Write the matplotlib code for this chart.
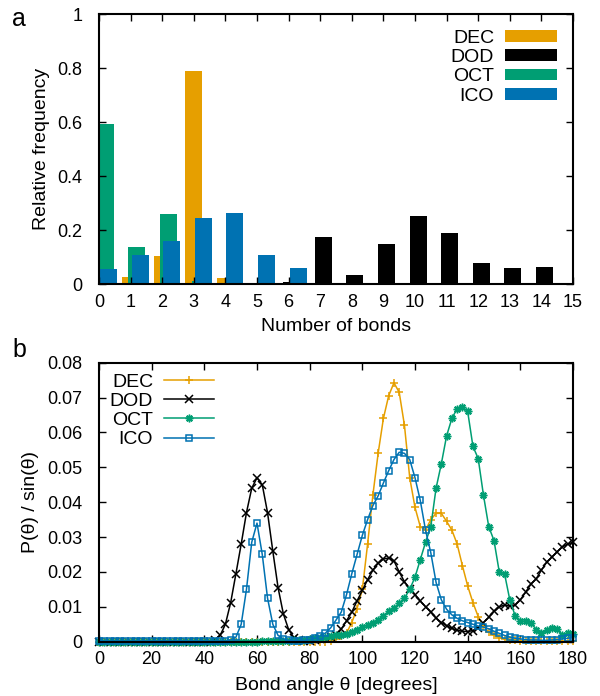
import matplotlib
matplotlib.use("Agg")
import matplotlib.pyplot as plt
import numpy as np
from matplotlib.ticker import FormatStrFormatter

plt.rcParams['font.family'] = ['Liberation Sans', 'DejaVu Sans']

# panel a: bond count histogram
bonds = list(range(15))
dec_freq = [0, 0.028, 0.105, 0.790, 0.022, 0, 0, 0, 0, 0, 0, 0, 0, 0, 0]
dod_freq = [0, 0, 0, 0, 0.004, 0.004, 0.008, 0.175, 0.034, 0.148, 0.252, 0.190, 0.078, 0.059, 0.064]
oct_freq = [0.594, 0.138, 0.259, 0.012, 0, 0, 0, 0, 0, 0, 0, 0, 0, 0, 0]
ico_freq = [0.057, 0.108, 0.160, 0.245, 0.263, 0.107, 0.060, 0.003, 0.002, 0, 0, 0, 0, 0, 0]

# panel b: bond angle distributions, 2 degree steps
theta = list(range(0, 182, 2))
dec_p = ([0.0] * 44 +
         [0.0003, 0.0008, 0.0015, 0.0025, 0.0055, 0.0095, 0.0150, 0.0280, 0.0420, 0.0540,
          0.0640, 0.0705, 0.0742, 0.0715, 0.0620, 0.0470, 0.0385, 0.0330, 0.0320, 0.0350,
          0.0368, 0.0368, 0.0345, 0.0320, 0.0280, 0.0218, 0.0160, 0.0112, 0.0072, 0.0045,
          0.0028, 0.0018, 0.0012, 0.0008, 0.0005, 0.0004, 0.0003, 0.0003, 0.0002, 0.0002,
          0.0002, 0.0001, 0.0001, 0.0001, 0.0001, 0.0001, 0.0001])
dod_p = ([0.0] * 22 +
         [0.0005, 0.0018, 0.0050, 0.0112, 0.0195, 0.0280, 0.0370, 0.0440, 0.0470, 0.0450,
          0.0370, 0.0260, 0.0155, 0.0080, 0.0035, 0.0012, 0.0004, 0.0002, 0.0002, 0.0004,
          0.0007, 0.0010, 0.0014, 0.0020, 0.0036, 0.0060, 0.0085, 0.0117, 0.0147, 0.0178,
          0.0205, 0.0225, 0.0237, 0.0240, 0.0232, 0.0200, 0.0172, 0.0152, 0.0135, 0.0117,
          0.0100, 0.0085, 0.0068, 0.0055, 0.0046, 0.0038, 0.0033, 0.0030, 0.0029, 0.0032,
          0.0040, 0.0055, 0.0070, 0.0087, 0.0100, 0.0105, 0.0102, 0.0105, 0.0120, 0.0142,
          0.0165, 0.0180, 0.0205, 0.0228, 0.0243, 0.0258, 0.0272, 0.0280, 0.0285])
oct_p = ([0.0] * 31 +
         [0.0001, 0.0001, 0.0001, 0.0001, 0.0002, 0.0003, 0.0004, 0.0005, 0.0006, 0.0008,
          0.0010, 0.0012, 0.0014, 0.0016, 0.0018, 0.0020, 0.0023, 0.0028, 0.0035, 0.0042,
          0.0048, 0.0053, 0.0062, 0.0075, 0.0087, 0.0097, 0.0110, 0.0125, 0.0150, 0.0185,
          0.0235, 0.0285, 0.0330, 0.0440, 0.0510, 0.0590, 0.0640, 0.0668, 0.0672, 0.0660,
          0.0560, 0.0525, 0.0420, 0.0330, 0.0290, 0.0200, 0.0195, 0.0120, 0.0075, 0.0060,
          0.0058, 0.0055, 0.0035, 0.0025, 0.0035, 0.0038, 0.0036, 0.0020, 0.0024, 0.0022])
ico_p = ([0.0002] * 25 +
         [0.0005, 0.0013, 0.0050, 0.0150, 0.0285, 0.0340, 0.0250, 0.0125, 0.0050, 0.0018,
          0.0008, 0.0004, 0.0003, 0.0003, 0.0004, 0.0006, 0.0010, 0.0017, 0.0025, 0.0040,
          0.0062, 0.0085, 0.0135, 0.0195, 0.0250, 0.0305, 0.0350, 0.0390, 0.0418, 0.0455,
          0.0490, 0.0522, 0.0543, 0.0540, 0.0522, 0.0470, 0.0405, 0.0320, 0.0255, 0.0170,
          0.0120, 0.0093, 0.0077, 0.0067, 0.0060, 0.0055, 0.0050, 0.0045, 0.0042, 0.0037,
          0.0030, 0.0024, 0.0018, 0.0013, 0.0010, 0.0008, 0.0006, 0.0005, 0.0005, 0.0004,
          0.0004, 0.0005, 0.0006, 0.0008, 0.0010, 0.0012])

names = ["DEC", "DOD", "OCT", "ICO"]
colors = ["#E69F00", "#000000", "#009E73", "#0072B2"]

fig = plt.figure(figsize=(6.0, 6.96), dpi=100)
ax1 = fig.add_axes([0.165, 0.5915, 0.79, 0.388])
ax2 = fig.add_axes([0.165, 0.078, 0.79, 0.401])

# bars, gnuplot-like cluster offsets
x = np.array(bonds)
offsets = [0.0, 0.1, 0.2, 0.3]
for vals, c, off, n in zip([dec_freq, dod_freq, oct_freq, ico_freq], colors, offsets, names):
    ax1.bar(x + off, vals, width=0.54, color=c, linewidth=0, label=n)

ax1.set_xlim(0, 15)
ax1.set_ylim(0, 1)
ax1.set_xticks(range(16))
ax1.set_yticks([0, 0.2, 0.4, 0.6, 0.8, 1.0])
ax1.yaxis.set_major_formatter(FormatStrFormatter('%g'))
ax1.set_xlabel("Number of bonds", fontsize=14, labelpad=5)
ax1.set_ylabel("Relative frequency", fontsize=14, labelpad=5)
leg1 = ax1.legend(loc='upper right', frameon=False, markerfirst=False, fontsize=14,
                  handlelength=2.7, handleheight=0.55, labelspacing=0.12,
                  handletextpad=0.55, borderaxespad=0.3, borderpad=0.5)

# angle distributions
markers = ['+', 'x', (8, 2, 0), 's']
for vals, c, m, n in zip([dec_p, dod_p, oct_p, ico_p], colors, markers, names):
    ax2.plot(theta, vals, color=c, lw=1.1, marker=m, ms=5.5 if m != 's' else 5,
             mew=1.1, mfc='none', label=n, clip_on=False)

ax2.set_xlim(0, 180)
ax2.set_ylim(0, 0.08)
ax2.set_xticks(range(0, 181, 20))
ax2.set_yticks(np.arange(0, 0.081, 0.01))
ax2.yaxis.set_major_formatter(FormatStrFormatter('%g'))
ax2.set_xlabel("Bond angle θ [degrees]", fontsize=14, labelpad=6)
ax2.set_ylabel("P(θ) / sin(θ)", fontsize=14, labelpad=6)
leg2 = ax2.legend(loc='upper left', frameon=False, markerfirst=False, fontsize=14,
                  handlelength=2.6, labelspacing=0.08, handletextpad=0.55,
                  borderaxespad=0.15)

for ax in (ax1, ax2):
    ax.tick_params(direction='in', top=True, right=True, length=5, width=1, labelsize=13)
    ax.tick_params(axis='y', pad=12)
    ax.tick_params(axis='x', pad=7)
    for s in ax.spines.values():
        s.set_linewidth(1.5)

fig.text(0.02, 0.962, "a", fontsize=18)
fig.text(0.02, 0.487, "b", fontsize=18)

fig.savefig("out.png", dpi=100)
